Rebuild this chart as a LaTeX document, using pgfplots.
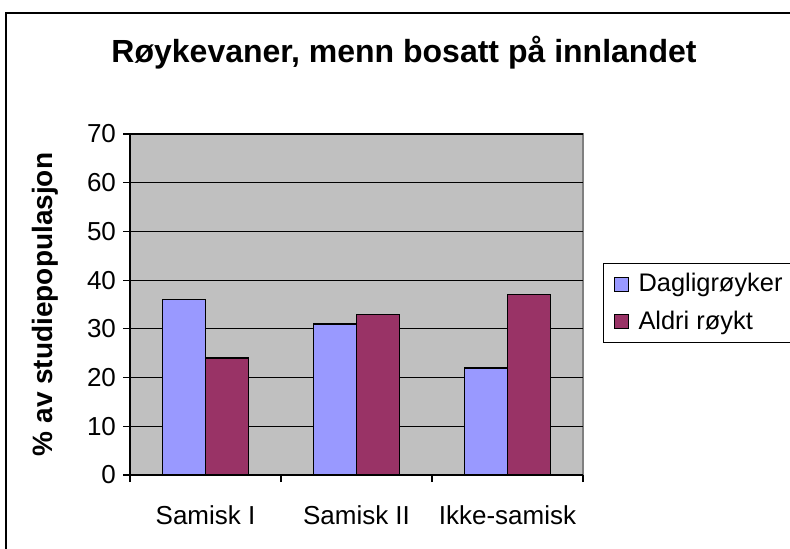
\documentclass[border=0pt]{standalone}
\usepackage{fontspec}
\setmainfont{Liberation Sans}
\usepackage{pgfplots}
\pgfplotsset{compat=1.18}
\definecolor{plotgray}{HTML}{C0C0C0}
\definecolor{dagblue}{HTML}{9999FF}
\definecolor{aldrired}{HTML}{993366}
\definecolor{framegray}{HTML}{808080}

\begin{document}
\begin{tikzpicture}
% outer chart frame (left and top visible)
\draw[line width=1pt] (3pt,-5pt) -- (3pt,267.5pt) -- (400pt,267.5pt);
\node[font=\bfseries\fontsize{16}{19}\selectfont, anchor=base] at (202pt,243pt) {Røykevaner, menn bosatt på innlandet};

\begin{axis}[
  scale only axis,
  width=226.5pt, height=170.5pt,
  at={(65pt,36.5pt)}, anchor=south west,
  xmin=-0.5, xmax=2.5,
  ymin=0, ymax=70,
  ybar=0pt, bar width=21.5pt,
  axis x line*=bottom, axis y line*=left,
  axis line style={black, line width=0.6pt},
  axis background/.style={fill=plotgray, draw=framegray, line width=1pt},
  xtick={0,1,2},
  xticklabels={Samisk I, Samisk II, Ikke-samisk},
  major x tick style={draw=none},
  minor xtick={-0.5,0.5,1.5,2.5},
  ytick={0,10,...,70},
  tick align=outside,
  major tick length=3.5pt, minor tick length=3.5pt,
  tick style={black, line width=0.6pt},
  ymajorgrids,
  grid style={black, line width=0.6pt},
  /pgf/number format/assume math mode=true,
  tick label style={font=\fontsize{13}{15}\selectfont},
  xticklabel style={anchor=base, yshift=-21pt},
  every axis y label/.style={at={(axis description cs:-0.188,0.5)}, rotate=90, anchor=center},
  ylabel={\bfseries\fontsize{14}{16}\selectfont \% av studiepopulasjon},
  legend style={at={(axis description cs:1.044,0.622)}, anchor=north west,
    draw=black, fill=white, line width=0.6pt,
    font=\fontsize{12.7}{15}\selectfont, row sep=4pt, inner xsep=5pt, inner ysep=3pt,
    /tikz/every odd column/.append style={column sep=3pt}},
  legend cell align=left,
  legend image code/.code={\draw[#1, draw=black, line width=0.5pt] (0pt,-3.5pt) rectangle (7pt,3.5pt);},
]
\addplot[fill=dagblue, draw=black, line width=0.7pt] coordinates {(0,36) (1,31) (2,22)};
\addplot[fill=aldrired, draw=black, line width=0.7pt] coordinates {(0,24) (1,33) (2,37)};
\legend{\makebox[80pt][l]{Dagligrøyker}, \makebox[80pt][l]{Aldri røykt}}
\end{axis}
\pgfresetboundingbox
\path[use as bounding box] (0,0) rectangle (395pt,274pt);
\end{tikzpicture}
\end{document}
